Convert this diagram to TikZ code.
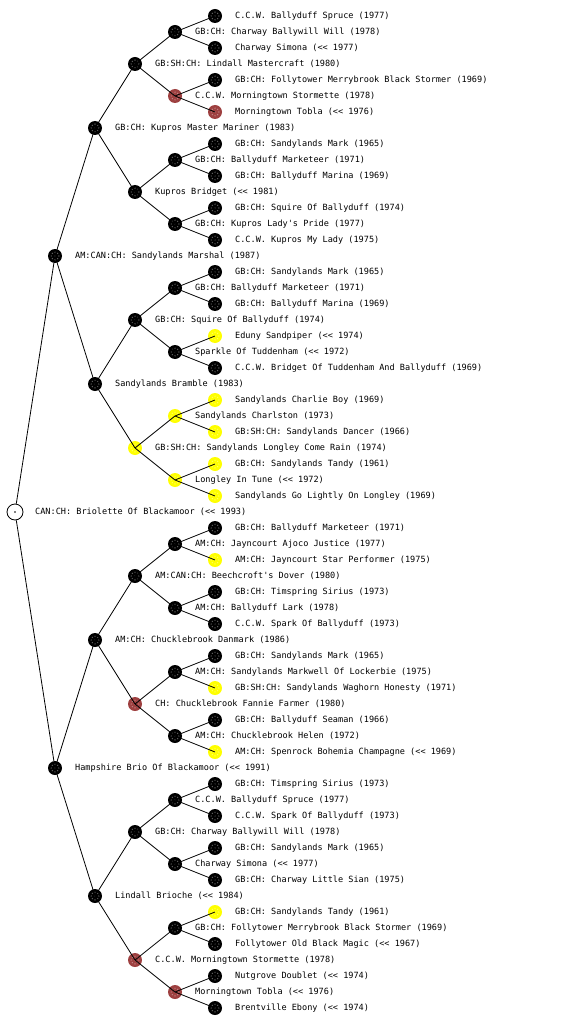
\documentclass[tikz,border=0pt]{standalone}
\usepackage{fontspec}
\newfontfamily\pdfont{DejaVu Sans Mono}
\definecolor{pdredc}{RGB}{158,64,64}
\definecolor{pdyelc}{RGB}{255,255,0}
\newcommand\pdlt{<\kern0pt<}
\newcommand\pd[4]{%
  \node[#3] (n#1) at (#2,{16+16*#1}) {};
  \node[lbl] (t#1) at ([xshift=20pt]n#1.center) {#4};
}
\tikzset{
  edge/.style={line width=0.8pt, draw=black},
  dogm/.style={circle, fill=#1, minimum size=14pt, inner sep=0pt,
    path picture={
      \foreach \a in {0,45,...,315}{\fill[white,opacity=0.4] ([shift={(\a:3.8pt)}]path picture bounding box.center) circle (0.7pt);}
      \fill[white,opacity=0.4] (path picture bounding box.center) circle (0.7pt);}},
  pdblk/.style={dogm=black},
  pdred/.style={dogm=pdredc},
  pdyel/.style={dogm=pdyelc},
  rootm/.style={circle, draw=black, fill=white, line width=0.8pt, minimum size=16pt, inner sep=0pt,
    path picture={\fill[black] (path picture bounding box.center) circle (0.8pt);}},
  lbl/.style={anchor=west, inner sep=0pt, font=\pdfont\fontsize{8.55}{10}\selectfont}
}
\begin{document}
\begin{tikzpicture}[x=1pt,y=-1pt]
\useasboundingbox (0,0) rectangle (560,1024);
\pd{0}{215}{pdblk}{C.C.W. Ballyduff Spruce (1977)}
\pd{1}{175}{pdblk}{GB:CH: Charway Ballywill Will (1978)}
\pd{2}{215}{pdblk}{Charway Simona (\pdlt{} 1977)}
\pd{3}{135}{pdblk}{GB:SH:CH: Lindall Mastercraft (1980)}
\pd{4}{215}{pdblk}{GB:CH: Follytower Merrybrook Black Stormer (1969)}
\pd{5}{175}{pdred}{C.C.W. Morningtown Stormette (1978)}
\pd{6}{215}{pdred}{Morningtown Tobla (\pdlt{} 1976)}
\pd{7}{95}{pdblk}{GB:CH: Kupros Master Mariner (1983)}
\pd{8}{215}{pdblk}{GB:CH: Sandylands Mark (1965)}
\pd{9}{175}{pdblk}{GB:CH: Ballyduff Marketeer (1971)}
\pd{10}{215}{pdblk}{GB:CH: Ballyduff Marina (1969)}
\pd{11}{135}{pdblk}{Kupros Bridget (\pdlt{} 1981)}
\pd{12}{215}{pdblk}{GB:CH: Squire Of Ballyduff (1974)}
\pd{13}{175}{pdblk}{GB:CH: Kupros Lady\textquotesingle s Pride (1977)}
\pd{14}{215}{pdblk}{C.C.W. Kupros My Lady (1975)}
\pd{15}{55}{pdblk}{AM:CAN:CH: Sandylands Marshal (1987)}
\pd{16}{215}{pdblk}{GB:CH: Sandylands Mark (1965)}
\pd{17}{175}{pdblk}{GB:CH: Ballyduff Marketeer (1971)}
\pd{18}{215}{pdblk}{GB:CH: Ballyduff Marina (1969)}
\pd{19}{135}{pdblk}{GB:CH: Squire Of Ballyduff (1974)}
\pd{20}{215}{pdyel}{Eduny Sandpiper (\pdlt{} 1974)}
\pd{21}{175}{pdblk}{Sparkle Of Tuddenham (\pdlt{} 1972)}
\pd{22}{215}{pdblk}{C.C.W. Bridget Of Tuddenham And Ballyduff (1969)}
\pd{23}{95}{pdblk}{Sandylands Bramble (1983)}
\pd{24}{215}{pdyel}{Sandylands Charlie Boy (1969)}
\pd{25}{175}{pdyel}{Sandylands Charlston (1973)}
\pd{26}{215}{pdyel}{GB:SH:CH: Sandylands Dancer (1966)}
\pd{27}{135}{pdyel}{GB:SH:CH: Sandylands Longley Come Rain (1974)}
\pd{28}{215}{pdyel}{GB:CH: Sandylands Tandy (1961)}
\pd{29}{175}{pdyel}{Longley In Tune (\pdlt{} 1972)}
\pd{30}{215}{pdyel}{Sandylands Go Lightly On Longley (1969)}
\pd{31}{15}{rootm}{CAN:CH: Briolette Of Blackamoor (\pdlt{} 1993)}
\pd{32}{215}{pdblk}{GB:CH: Ballyduff Marketeer (1971)}
\pd{33}{175}{pdblk}{AM:CH: Jayncourt Ajoco Justice (1977)}
\pd{34}{215}{pdyel}{AM:CH: Jayncourt Star Performer (1975)}
\pd{35}{135}{pdblk}{AM:CAN:CH: Beechcroft\textquotesingle s Dover (1980)}
\pd{36}{215}{pdblk}{GB:CH: Timspring Sirius (1973)}
\pd{37}{175}{pdblk}{AM:CH: Ballyduff Lark (1978)}
\pd{38}{215}{pdblk}{C.C.W. Spark Of Ballyduff (1973)}
\pd{39}{95}{pdblk}{AM:CH: Chucklebrook Danmark (1986)}
\pd{40}{215}{pdblk}{GB:CH: Sandylands Mark (1965)}
\pd{41}{175}{pdblk}{AM:CH: Sandylands Markwell Of Lockerbie (1975)}
\pd{42}{215}{pdyel}{GB:SH:CH: Sandylands Waghorn Honesty (1971)}
\pd{43}{135}{pdred}{CH: Chucklebrook Fannie Farmer (1980)}
\pd{44}{215}{pdblk}{GB:CH: Ballyduff Seaman (1966)}
\pd{45}{175}{pdblk}{AM:CH: Chucklebrook Helen (1972)}
\pd{46}{215}{pdyel}{AM:CH: Spenrock Bohemia Champagne (\pdlt{} 1969)}
\pd{47}{55}{pdblk}{Hampshire Brio Of Blackamoor (\pdlt{} 1991)}
\pd{48}{215}{pdblk}{GB:CH: Timspring Sirius (1973)}
\pd{49}{175}{pdblk}{C.C.W. Ballyduff Spruce (1977)}
\pd{50}{215}{pdblk}{C.C.W. Spark Of Ballyduff (1973)}
\pd{51}{135}{pdblk}{GB:CH: Charway Ballywill Will (1978)}
\pd{52}{215}{pdblk}{GB:CH: Sandylands Mark (1965)}
\pd{53}{175}{pdblk}{Charway Simona (\pdlt{} 1977)}
\pd{54}{215}{pdblk}{GB:CH: Charway Little Sian (1975)}
\pd{55}{95}{pdblk}{Lindall Brioche (\pdlt{} 1984)}
\pd{56}{215}{pdyel}{GB:CH: Sandylands Tandy (1961)}
\pd{57}{175}{pdblk}{GB:CH: Follytower Merrybrook Black Stormer (1969)}
\pd{58}{215}{pdblk}{Follytower Old Black Magic (\pdlt{} 1967)}
\pd{59}{135}{pdred}{C.C.W. Morningtown Stormette (1978)}
\pd{60}{215}{pdblk}{Nutgrove Doublet (\pdlt{} 1974)}
\pd{61}{175}{pdred}{Morningtown Tobla (\pdlt{} 1976)}
\pd{62}{215}{pdblk}{Brentville Ebony (\pdlt{} 1974)}
% connectors
\foreach \p in {1,5,...,61}{
  \pgfmathtruncatemacro\pa{\p-1}\pgfmathtruncatemacro\pb{\p+1}
  \draw[edge] (n\p.center) -- (n\pa.center) (n\p.center) -- (n\pb.center);}
\foreach \p in {3,11,...,59}{
  \pgfmathtruncatemacro\pa{\p-2}\pgfmathtruncatemacro\pb{\p+2}
  \draw[edge] (n\p.center) -- (n\pa.center) (n\p.center) -- (n\pb.center);}
\foreach \p in {7,23,39,55}{
  \pgfmathtruncatemacro\pa{\p-4}\pgfmathtruncatemacro\pb{\p+4}
  \draw[edge] (n\p.center) -- (n\pa.center) (n\p.center) -- (n\pb.center);}
\foreach \p in {15,47}{
  \pgfmathtruncatemacro\pa{\p-8}\pgfmathtruncatemacro\pb{\p+8}
  \draw[edge] (n\p.center) -- (n\pa.center) (n\p.center) -- (n\pb.center);}
\draw[edge] (n31) -- (n15) (n31) -- (n47);
\end{tikzpicture}
\end{document}
